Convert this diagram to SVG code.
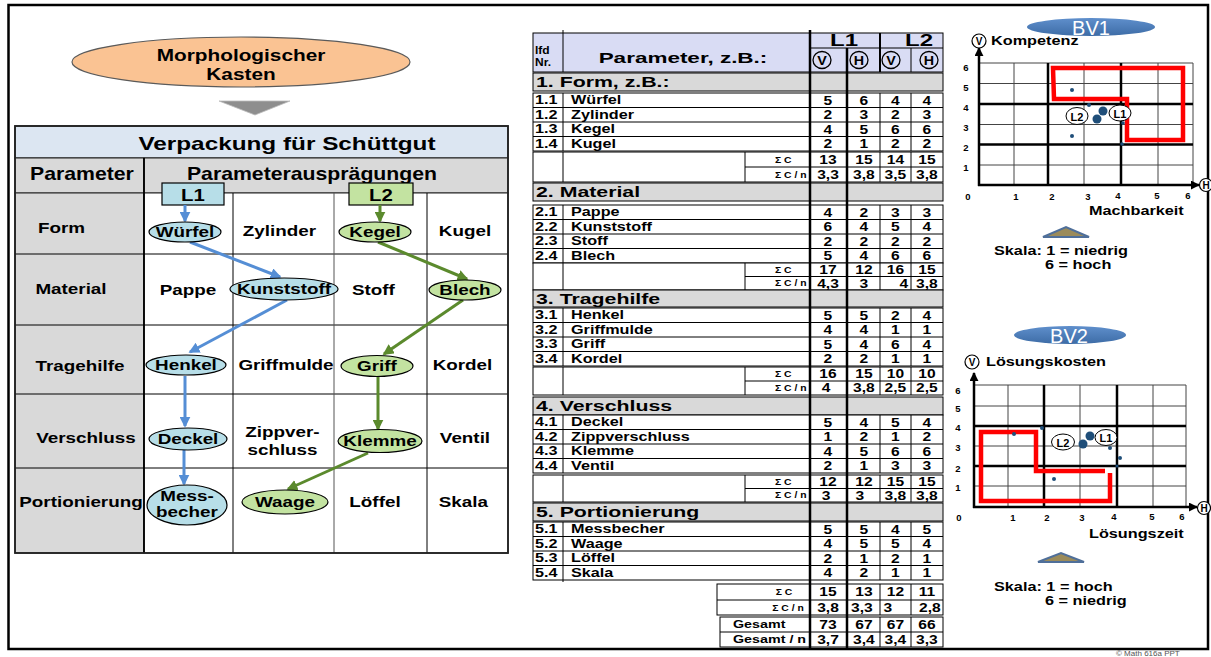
<svg xmlns="http://www.w3.org/2000/svg" width="1211" height="657" viewBox="0 0 1211 657">
<defs>
<marker id="ab" viewBox="0 0 10 10" refX="8.5" refY="5" markerWidth="11" markerHeight="11" markerUnits="userSpaceOnUse" orient="auto"><path d="M0,0L10,5L0,10z" fill="#558ED5"/></marker>
<marker id="ag" viewBox="0 0 10 10" refX="8.5" refY="5" markerWidth="11" markerHeight="11" markerUnits="userSpaceOnUse" orient="auto"><path d="M0,0L10,5L0,10z" fill="#5B8A2D"/></marker>
<marker id="ak" viewBox="0 0 10 10" refX="9" refY="5" markerWidth="9" markerHeight="9" markerUnits="userSpaceOnUse" orient="auto"><path d="M0,0L10,5L0,10z" fill="#000"/></marker>
<linearGradient id="bv" x1="0" y1="0" x2="0" y2="1"><stop offset="0" stop-color="#5F8FCC"/><stop offset="1" stop-color="#3D6CA6"/></linearGradient>
</defs>
<style>
text{font-family:"Liberation Sans",Arial,Helvetica,sans-serif;font-weight:bold;fill:#000;dominant-baseline:central}
.c{text-anchor:middle;transform-box:fill-box;transform-origin:center}
.s{transform-box:fill-box;transform-origin:left center}
.k1{font-size:16px;transform:scaleX(1.3)}
.ti{font-size:19px;transform:scaleX(1.28)}
.hd{font-size:18px;transform:scaleX(1.18)}
.lb{font-size:17px;transform:scaleX(1.2)}
.lp{font-size:14.5px;transform:scaleX(1.3)}
.th{font-size:15px;transform:scaleX(1.5)}
.lf{font-size:10px;transform:scaleX(1.2)}
.L{font-size:16px;transform:scaleX(1.5)}
.sec{font-size:15px;transform:scaleX(1.42)}
.r{font-size:12px;transform:scaleX(1.35)}
.v{font-size:12px;transform:scaleX(1.3)}
.sg{font-size:9px;transform:scaleX(1.15)}
.gs{font-size:11px;transform:scaleX(1.3)}
.ci{font-size:11px}
.hc{font-size:13px;transform:scaleX(1.1)}
.ax{font-size:13px;transform:scaleX(1.25)}
.tk{font-size:9.5px;text-anchor:middle}
.bvt{font-size:20px;font-weight:normal;fill:#fff;text-anchor:middle}
.cp{font-size:11px;text-anchor:middle}
.ln line{stroke:#000;stroke-width:1}
.cell{fill:#fff;stroke:#000;stroke-width:1}
.band{fill:#D9D9D9;stroke:#000;stroke-width:1}
.eb{fill:#B7DEE8;stroke:#000;stroke-width:1.2}
.eg{fill:#C3E3A1;stroke:#000;stroke-width:1.2}
.cb{stroke:#558ED5;stroke-width:3;fill:none;marker-end:url(#ab)}
.cg{stroke:#5B8A2D;stroke-width:3;fill:none;marker-end:url(#ag)}
.gt line{stroke:#444;stroke-width:1}
.gk line{stroke:#000;stroke-width:2.5}
.dot{fill:#1F4E79}
.red{fill:none;stroke:#FF0000;stroke-width:4.5}
.lbl{fill:#fff;stroke:#000;stroke-width:1}
.tri{fill:#9B8B5A;stroke:#4F6F9A;stroke-width:2}
</style>
<rect x="0" y="0" width="1211" height="657" fill="#fff"/>
<g id="frame"><rect x="8.5" y="5" width="1199.5" height="644" fill="none" stroke="#000" stroke-width="2.5"/></g>

<!-- LEFT: morphological box -->
<g id="node-kasten">
<ellipse cx="241" cy="62" rx="169" ry="25" fill="#FAC393" stroke="#5a5a5a" stroke-width="1.2"/>
<text class="c k1" x="241" y="55">Morphologischer</text>
<text class="c k1" x="241" y="74">Kasten</text>
</g>
<g id="down-triangle"><polygon points="219,101 290,101 255,115" fill="#8E8E8E" stroke="#bbb" stroke-width="0.8"/></g>

<g id="morph-table">
<rect x="15" y="126" width="493" height="32" fill="#DCE6F2" stroke="#222" stroke-width="1.2"/>
<rect x="15" y="158" width="129" height="35" fill="#D9D9D9" stroke="#222"/>
<rect x="144" y="158" width="364" height="35" fill="#D9D9D9" stroke="#222"/>
<rect x="15" y="193" width="129" height="360" fill="#D9D9D9" stroke="#222"/>
<rect x="144" y="193" width="364" height="360" fill="#fff" stroke="#222"/>
<g class="ln">
<line x1="15" y1="254" x2="508" y2="254"/>
<line x1="15" y1="325" x2="508" y2="325"/>
<line x1="15" y1="394" x2="508" y2="394"/>
<line x1="15" y1="468" x2="508" y2="468"/>
<line x1="233" y1="193" x2="233" y2="553"/>
<line x1="334" y1="193" x2="334" y2="553" style="stroke:#555"/>
<line x1="427" y1="193" x2="427" y2="553"/>
<line x1="144" y1="158" x2="144" y2="553" style="stroke-width:1.8"/>
</g>
<rect x="15" y="126" width="493" height="427" fill="none" stroke="#222" stroke-width="1.8"/>
<text class="c ti" x="287" y="143.5">Verpackung für Schüttgut</text>
<text class="c hd" x="82" y="173.5">Parameter</text>
<text class="c hd" x="312" y="173.5">Parameterausprägungen</text>
<text class="c lp" x="61.5" y="228.5">Form</text>
<text class="c lp" x="71" y="289.5">Material</text>
<text class="c lp" x="80" y="366.5">Tragehilfe</text>
<text class="c lp" x="86" y="438.5">Verschluss</text>
<text class="c lp" x="81" y="502">Portionierung</text>
<text class="c lp" x="279.5" y="231.5">Zylinder</text>
<text class="c lp" x="465" y="231.5">Kugel</text>
<text class="c lp" x="188" y="290">Pappe</text>
<text class="c lp" x="373.5" y="290">Stoff</text>
<text class="c lp" x="286" y="365.5">Griffmulde</text>
<text class="c lp" x="462.5" y="365.5">Kordel</text>
<text class="c lp" x="282.5" y="432">Zippver-</text>
<text class="c lp" x="282.5" y="450">schluss</text>
<text class="c lp" x="465" y="438.5">Ventil</text>
<text class="c lp" x="375" y="502.5">Löffel</text>
<text class="c lp" x="463.5" y="502.5">Skala</text>
</g>

<g id="node-L1"><rect x="162" y="183" width="62" height="22" fill="#B7DEE8" stroke="#000" stroke-width="1.2"/><text class="c lb" x="193" y="195">L1</text></g>
<g id="node-L2"><rect x="349" y="183" width="64" height="22" fill="#C3E3A1" stroke="#000" stroke-width="1.2"/><text class="c lb" x="381" y="195">L2</text></g>

<g id="connectors">
<line class="cb" x1="185" y1="205" x2="185" y2="221"/>
<line class="cb" x1="190" y1="242" x2="280" y2="277"/>
<line class="cb" x1="287" y1="300" x2="190" y2="352"/>
<line class="cb" x1="185" y1="376" x2="185" y2="426"/>
<line class="cb" x1="184" y1="450" x2="184" y2="484"/>
<line class="cg" x1="380" y1="205" x2="380" y2="221"/>
<line class="cg" x1="378" y1="242" x2="467" y2="279"/>
<line class="cg" x1="463" y1="300" x2="384" y2="354"/>
<line class="cg" x1="378" y1="377" x2="378" y2="429"/>
<line class="cg" x1="368" y1="453" x2="288" y2="489"/>
</g>

<g id="node-wuerfel"><ellipse class="eb" cx="185" cy="232" rx="36" ry="10"/><text class="c lp" x="185" y="232">Würfel</text></g>
<g id="node-kunststoff"><ellipse class="eb" cx="284" cy="289" rx="54" ry="11"/><text class="c lp" x="284" y="289">Kunststoff</text></g>
<g id="node-henkel"><ellipse class="eb" cx="186" cy="365" rx="40" ry="10"/><text class="c lp" x="186" y="365">Henkel</text></g>
<g id="node-deckel"><ellipse class="eb" cx="188" cy="439" rx="39" ry="11"/><text class="c lp" x="188" y="439">Deckel</text></g>
<g id="node-messbecher"><ellipse class="eb" cx="187" cy="505" rx="40" ry="20"/><text class="c lp" x="187" y="496">Mess-</text><text class="c lp" x="187" y="512">becher</text></g>
<g id="node-kegel"><ellipse class="eg" cx="375" cy="232" rx="36" ry="10"/><text class="c lp" x="375" y="232">Kegel</text></g>
<g id="node-blech"><ellipse class="eg" cx="465" cy="290" rx="36" ry="10"/><text class="c lp" x="465" y="290">Blech</text></g>
<g id="node-griff"><ellipse class="eg" cx="377" cy="366" rx="36" ry="10.5"/><text class="c lp" x="377" y="366">Griff</text></g>
<g id="node-klemme"><ellipse class="eg" cx="380" cy="441" rx="42" ry="11.5"/><text class="c lp" x="380" y="441">Klemme</text></g>
<g id="node-waage"><ellipse class="eg" cx="285" cy="502" rx="43" ry="12"/><text class="c lp" x="285" y="502">Waage</text></g>

<!-- TABLE -->
<g id="eval-table">
<rect x="533" y="33" width="410" height="39" fill="#D9DCF4" stroke="#000"/>
<g class="ln">
<line x1="563" y1="30" x2="563" y2="72"/>
<line x1="880" y1="33" x2="880" y2="72" style="stroke-width:2"/>
<line x1="810" y1="48" x2="943" y2="48"/>
<line x1="911" y1="48" x2="911" y2="72"/>
</g>
<text class="s lf" x="535" y="50">lfd</text>
<text class="s lf" x="535" y="62">Nr.</text>
<text class="c th" x="683" y="58">Parameter, z.B.:</text>
<text class="c L" x="844" y="41">L1</text>
<text class="c L" x="919" y="41">L2</text>
<g fill="none" stroke="#000" stroke-width="1.3"><ellipse cx="822" cy="60" rx="9" ry="8.5"/><ellipse cx="859" cy="60" rx="9" ry="8.5"/><ellipse cx="891" cy="60" rx="9" ry="8.5"/><ellipse cx="929" cy="60" rx="9" ry="8.5"/></g>
<text class="c hc" x="822" y="60.5">V</text><text class="c hc" x="859" y="60.5">H</text><text class="c hc" x="891" y="60.5">V</text><text class="c hc" x="929" y="60.5">H</text>

<!-- section 1 -->
<rect class="band" x="533" y="73" width="410" height="18"/>
<rect class="cell" x="533" y="93" width="410" height="58"/>
<rect class="cell" x="533" y="152" width="410" height="30"/>
<g class="ln">
<line x1="533" y1="107.5" x2="943" y2="107.5"/><line x1="533" y1="122" x2="943" y2="122"/><line x1="533" y1="136.5" x2="943" y2="136.5"/>
<line x1="563" y1="93" x2="563" y2="151"/><line x1="880" y1="93" x2="880" y2="151"/><line x1="911" y1="93" x2="911" y2="151"/>
<line x1="563" y1="152" x2="563" y2="182"/><line x1="745" y1="152" x2="745" y2="182"/><line x1="880" y1="152" x2="880" y2="182"/><line x1="911" y1="152" x2="911" y2="182"/>
<line x1="745" y1="167" x2="943" y2="167"/>
</g>
<!-- section 2 -->
<rect class="band" x="533" y="183" width="410" height="18"/>
<rect class="cell" x="533" y="205" width="410" height="58"/>
<rect class="cell" x="533" y="263" width="410" height="27"/>
<g class="ln">
<line x1="533" y1="219.5" x2="943" y2="219.5"/><line x1="533" y1="234" x2="943" y2="234"/><line x1="533" y1="248.5" x2="943" y2="248.5"/>
<line x1="563" y1="205" x2="563" y2="263"/><line x1="880" y1="205" x2="880" y2="263"/><line x1="911" y1="205" x2="911" y2="263"/>
<line x1="563" y1="263" x2="563" y2="290"/><line x1="745" y1="263" x2="745" y2="290"/><line x1="880" y1="263" x2="880" y2="290"/><line x1="911" y1="263" x2="911" y2="290"/>
<line x1="745" y1="276.5" x2="943" y2="276.5"/>
</g>
<!-- section 3 -->
<rect class="band" x="533" y="290" width="410" height="17"/>
<rect class="cell" x="533" y="308" width="410" height="58"/>
<rect class="cell" x="533" y="367" width="410" height="28"/>
<g class="ln">
<line x1="533" y1="322.5" x2="943" y2="322.5"/><line x1="533" y1="337" x2="943" y2="337"/><line x1="533" y1="351.5" x2="943" y2="351.5"/>
<line x1="563" y1="308" x2="563" y2="366"/><line x1="880" y1="308" x2="880" y2="366"/><line x1="911" y1="308" x2="911" y2="366"/>
<line x1="563" y1="367" x2="563" y2="395"/><line x1="745" y1="367" x2="745" y2="395"/><line x1="880" y1="367" x2="880" y2="395"/><line x1="911" y1="367" x2="911" y2="395"/>
<line x1="745" y1="381" x2="943" y2="381"/>
</g>
<!-- section 4 -->
<rect class="band" x="533" y="397" width="410" height="18"/>
<rect class="cell" x="533" y="415" width="410" height="58"/>
<rect class="cell" x="533" y="475" width="410" height="27"/>
<g class="ln">
<line x1="533" y1="429.5" x2="943" y2="429.5"/><line x1="533" y1="444" x2="943" y2="444"/><line x1="533" y1="458.5" x2="943" y2="458.5"/>
<line x1="563" y1="415" x2="563" y2="473"/><line x1="880" y1="415" x2="880" y2="473"/><line x1="911" y1="415" x2="911" y2="473"/>
<line x1="563" y1="475" x2="563" y2="502"/><line x1="745" y1="475" x2="745" y2="502"/><line x1="880" y1="475" x2="880" y2="502"/><line x1="911" y1="475" x2="911" y2="502"/>
<line x1="745" y1="488.5" x2="943" y2="488.5"/>
</g>
<!-- section 5 -->
<rect class="band" x="533" y="503" width="410" height="18"/>
<rect class="cell" x="533" y="522" width="410" height="58"/>
<rect class="cell" x="717" y="584" width="226" height="31"/>
<rect class="cell" x="720" y="617" width="223" height="30"/>
<g class="ln">
<line x1="533" y1="536.5" x2="943" y2="536.5"/><line x1="533" y1="551" x2="943" y2="551"/><line x1="533" y1="565.5" x2="943" y2="565.5"/>
<line x1="563" y1="522" x2="563" y2="582"/><line x1="880" y1="522" x2="880" y2="580"/><line x1="911" y1="522" x2="911" y2="580"/>
<line x1="880" y1="584" x2="880" y2="615"/><line x1="911" y1="584" x2="911" y2="615"/><line x1="717" y1="600" x2="943" y2="600"/>
<line x1="880" y1="617" x2="880" y2="647"/><line x1="911" y1="617" x2="911" y2="647"/><line x1="720" y1="632" x2="943" y2="632"/>
</g>
<line x1="810" y1="30" x2="810" y2="648" stroke="#000" stroke-width="2.5"/>
<line x1="847" y1="48" x2="847" y2="648" stroke="#000" stroke-width="2.5"/>

<text class="s sec" x="536" y="82">1. Form, z.B.:</text>
<text class="s sec" x="536" y="192">2. Material</text>
<text class="s sec" x="536" y="298.5">3. Tragehilfe</text>
<text class="s sec" x="536" y="406">4. Verschluss</text>
<text class="s sec" x="536" y="512">5. Portionierung</text>

<text class="s r" x="535" y="100.25">1.1</text><text class="s r" x="571" y="100.25">Würfel</text>
<text class="s r" x="535" y="114.75">1.2</text><text class="s r" x="571" y="114.75">Zylinder</text>
<text class="s r" x="535" y="129.25">1.3</text><text class="s r" x="571" y="129.25">Kegel</text>
<text class="s r" x="535" y="143.75">1.4</text><text class="s r" x="571" y="143.75">Kugel</text>
<text class="s r" x="535" y="212.25">2.1</text><text class="s r" x="571" y="212.25">Pappe</text>
<text class="s r" x="535" y="226.75">2.2</text><text class="s r" x="571" y="226.75">Kunststoff</text>
<text class="s r" x="535" y="241.25">2.3</text><text class="s r" x="571" y="241.25">Stoff</text>
<text class="s r" x="535" y="255.75">2.4</text><text class="s r" x="571" y="255.75">Blech</text>
<text class="s r" x="535" y="315.25">3.1</text><text class="s r" x="571" y="315.25">Henkel</text>
<text class="s r" x="535" y="329.75">3.2</text><text class="s r" x="571" y="329.75">Griffmulde</text>
<text class="s r" x="535" y="344.25">3.3</text><text class="s r" x="571" y="344.25">Griff</text>
<text class="s r" x="535" y="358.75">3.4</text><text class="s r" x="571" y="358.75">Kordel</text>
<text class="s r" x="535" y="422.25">4.1</text><text class="s r" x="571" y="422.25">Deckel</text>
<text class="s r" x="535" y="436.75">4.2</text><text class="s r" x="571" y="436.75">Zippverschluss</text>
<text class="s r" x="535" y="451.25">4.3</text><text class="s r" x="571" y="451.25">Klemme</text>
<text class="s r" x="535" y="465.75">4.4</text><text class="s r" x="571" y="465.75">Ventil</text>
<text class="s r" x="535" y="529.25">5.1</text><text class="s r" x="571" y="529.25">Messbecher</text>
<text class="s r" x="535" y="543.75">5.2</text><text class="s r" x="571" y="543.75">Waage</text>
<text class="s r" x="535" y="558.25">5.3</text><text class="s r" x="571" y="558.25">Löffel</text>
<text class="s r" x="535" y="572.75">5.4</text><text class="s r" x="571" y="572.75">Skala</text>

<text class="s sg" x="775" y="159.5">Σ C</text><text class="s sg" x="775" y="174.5">Σ C / n</text>
<text class="s sg" x="775" y="269.75">Σ C</text><text class="s sg" x="775" y="283.25">Σ C / n</text>
<text class="s sg" x="775" y="374">Σ C</text><text class="s sg" x="775" y="388">Σ C / n</text>
<text class="s sg" x="775" y="481.75">Σ C</text><text class="s sg" x="775" y="495.25">Σ C / n</text>
<text class="c sg" x="784" y="592">Σ C</text><text class="c sg" x="788" y="607.5">Σ C / n</text>
<text class="s gs" x="733" y="624.5">Gesamt</text><text class="s gs" x="733" y="639.5">Gesamt / n</text>

<g id="values">
<text class="c v" x="828" y="100.25">5</text><text class="c v" x="864" y="100.25">6</text><text class="c v" x="895.5" y="100.25">4</text><text class="c v" x="927" y="100.25">4</text>
<text class="c v" x="828" y="114.75">2</text><text class="c v" x="864" y="114.75">3</text><text class="c v" x="895.5" y="114.75">2</text><text class="c v" x="927" y="114.75">3</text>
<text class="c v" x="828" y="129.25">4</text><text class="c v" x="864" y="129.25">5</text><text class="c v" x="895.5" y="129.25">6</text><text class="c v" x="927" y="129.25">6</text>
<text class="c v" x="828" y="143.75">2</text><text class="c v" x="864" y="143.75">1</text><text class="c v" x="895.5" y="143.75">2</text><text class="c v" x="927" y="143.75">2</text>
<text class="c v" x="828" y="159.5">13</text><text class="c v" x="864" y="159.5">15</text><text class="c v" x="895.5" y="159.5">14</text><text class="c v" x="927" y="159.5">15</text>
<text class="c v" x="828" y="174.5">3,3</text><text class="c v" x="864" y="174.5">3,8</text><text class="c v" x="895.5" y="174.5">3,5</text><text class="c v" x="927" y="174.5">3,8</text>

<text class="c v" x="828" y="212.25">4</text><text class="c v" x="864" y="212.25">2</text><text class="c v" x="895.5" y="212.25">3</text><text class="c v" x="927" y="212.25">3</text>
<text class="c v" x="828" y="226.75">6</text><text class="c v" x="864" y="226.75">4</text><text class="c v" x="895.5" y="226.75">5</text><text class="c v" x="927" y="226.75">4</text>
<text class="c v" x="828" y="241.25">2</text><text class="c v" x="864" y="241.25">2</text><text class="c v" x="895.5" y="241.25">2</text><text class="c v" x="927" y="241.25">2</text>
<text class="c v" x="828" y="255.75">5</text><text class="c v" x="864" y="255.75">4</text><text class="c v" x="895.5" y="255.75">6</text><text class="c v" x="927" y="255.75">6</text>
<text class="c v" x="828" y="269.75">17</text><text class="c v" x="864" y="269.75">12</text><text class="c v" x="895.5" y="269.75">16</text><text class="c v" x="927" y="269.75">15</text>
<text class="c v" x="828" y="283.25">4,3</text><text class="c v" x="864" y="283.25">3</text><text class="c v" x="904" y="283.25">4</text><text class="c v" x="927" y="283.25">3,8</text>

<text class="c v" x="828" y="315.25">5</text><text class="c v" x="864" y="315.25">5</text><text class="c v" x="895.5" y="315.25">2</text><text class="c v" x="927" y="315.25">4</text>
<text class="c v" x="828" y="329.75">4</text><text class="c v" x="864" y="329.75">4</text><text class="c v" x="895.5" y="329.75">1</text><text class="c v" x="927" y="329.75">1</text>
<text class="c v" x="828" y="344.25">5</text><text class="c v" x="864" y="344.25">4</text><text class="c v" x="895.5" y="344.25">6</text><text class="c v" x="927" y="344.25">4</text>
<text class="c v" x="828" y="358.75">2</text><text class="c v" x="864" y="358.75">2</text><text class="c v" x="895.5" y="358.75">1</text><text class="c v" x="927" y="358.75">1</text>
<text class="c v" x="828" y="374">16</text><text class="c v" x="864" y="374">15</text><text class="c v" x="895.5" y="374">10</text><text class="c v" x="927" y="374">10</text>
<text class="c v" x="826" y="388">4</text><text class="c v" x="864" y="388">3,8</text><text class="c v" x="895.5" y="388">2,5</text><text class="c v" x="927" y="388">2,5</text>

<text class="c v" x="828" y="422.25">5</text><text class="c v" x="864" y="422.25">4</text><text class="c v" x="895.5" y="422.25">5</text><text class="c v" x="927" y="422.25">4</text>
<text class="c v" x="828" y="436.75">1</text><text class="c v" x="864" y="436.75">2</text><text class="c v" x="895.5" y="436.75">1</text><text class="c v" x="927" y="436.75">2</text>
<text class="c v" x="828" y="451.25">4</text><text class="c v" x="864" y="451.25">5</text><text class="c v" x="895.5" y="451.25">6</text><text class="c v" x="927" y="451.25">6</text>
<text class="c v" x="828" y="465.75">2</text><text class="c v" x="864" y="465.75">1</text><text class="c v" x="895.5" y="465.75">3</text><text class="c v" x="927" y="465.75">3</text>
<text class="c v" x="828" y="481.75">12</text><text class="c v" x="864" y="481.75">12</text><text class="c v" x="895.5" y="481.75">15</text><text class="c v" x="927" y="481.75">15</text>
<text class="c v" x="826" y="495.25">3</text><text class="c v" x="860" y="495.25">3</text><text class="c v" x="895.5" y="495.25">3,8</text><text class="c v" x="927" y="495.25">3,8</text>

<text class="c v" x="828" y="529.25">5</text><text class="c v" x="864" y="529.25">5</text><text class="c v" x="895.5" y="529.25">4</text><text class="c v" x="927" y="529.25">5</text>
<text class="c v" x="828" y="543.75">4</text><text class="c v" x="864" y="543.75">5</text><text class="c v" x="895.5" y="543.75">5</text><text class="c v" x="927" y="543.75">4</text>
<text class="c v" x="828" y="558.25">2</text><text class="c v" x="864" y="558.25">1</text><text class="c v" x="895.5" y="558.25">2</text><text class="c v" x="927" y="558.25">1</text>
<text class="c v" x="828" y="572.75">4</text><text class="c v" x="864" y="572.75">2</text><text class="c v" x="895.5" y="572.75">1</text><text class="c v" x="927" y="572.75">1</text>
<text class="c v" x="828" y="592">15</text><text class="c v" x="864" y="592">13</text><text class="c v" x="895.5" y="592">12</text><text class="c v" x="927" y="592">11</text>
<text class="c v" x="828" y="607.5">3,8</text><text class="c v" x="862" y="607.5">3,3</text><text class="c v" x="888" y="607.5">3</text><text class="c v" x="930" y="607.5">2,8</text>
<text class="c v" x="828" y="624.5">73</text><text class="c v" x="864" y="624.5">67</text><text class="c v" x="895.5" y="624.5">67</text><text class="c v" x="927" y="624.5">66</text>
<text class="c v" x="828" y="639.5">3,7</text><text class="c v" x="864" y="639.5">3,4</text><text class="c v" x="895.5" y="639.5">3,4</text><text class="c v" x="927" y="639.5">3,3</text>
</g>
</g>

<!-- CHART BV1 -->
<g id="chart-bv1">
<ellipse cx="1091" cy="27" rx="64" ry="9" fill="url(#bv)"/>
<text class="bvt" x="1091" y="27.5">BV1</text>
<g class="gt">
<line x1="1014" y1="63" x2="1014" y2="185"/><line x1="1084" y1="63" x2="1084" y2="185"/><line x1="1158" y1="63" x2="1158" y2="185"/><line x1="1193" y1="63" x2="1193" y2="185"/>
<line x1="979" y1="165" x2="1193" y2="165"/><line x1="979" y1="124.5" x2="1193" y2="124.5"/><line x1="979" y1="83.5" x2="1193" y2="83.5"/><line x1="979" y1="63" x2="1193" y2="63"/>
</g>
<g class="gk">
<line x1="1048" y1="63" x2="1048" y2="185"/><line x1="1121" y1="63" x2="1121" y2="185"/>
<line x1="979" y1="144.5" x2="1193" y2="144.5"/><line x1="979" y1="104" x2="1193" y2="104"/>
</g>
<line x1="979" y1="186" x2="979" y2="48" stroke="#000" stroke-width="2.5" marker-end="url(#ak)"/>
<line x1="978" y1="185" x2="1199" y2="185" stroke="#000" stroke-width="2.5" marker-end="url(#ak)"/>
<polygon class="red" points="1053,68 1183,68 1183,140 1127,140 1127,99 1054,99"/>
<circle class="dot" cx="1072" cy="90" r="2"/><circle class="dot" cx="1089" cy="105" r="2"/>
<circle class="dot" cx="1103" cy="111" r="4.5"/><circle class="dot" cx="1097" cy="119" r="4.5"/>
<circle class="dot" cx="1072" cy="136" r="2"/><circle class="dot" cx="1123" cy="123" r="1.8"/><circle class="dot" cx="1122" cy="144" r="1.8"/>
<ellipse class="lbl" cx="1077" cy="116" rx="11" ry="8.5"/><text class="cp" x="1077" y="116.5">L2</text>
<ellipse class="lbl" cx="1120" cy="113" rx="11" ry="8"/><text class="cp" x="1120" y="113.5">L1</text>
<circle cx="979" cy="41" r="7" fill="#fff" stroke="#000" stroke-width="1.2"/><text class="c ci" x="979" y="41.5" style="font-size:10px">V</text>
<text class="s ax" x="991" y="41">Kompetenz</text>
<circle cx="1206" cy="185" r="6.5" fill="#fff" stroke="#000" stroke-width="1.2"/><text class="c ci" x="1206" y="185.5" style="font-size:10px">H</text>
<text class="tk" x="966" y="67">6</text><text class="tk" x="966" y="87">5</text><text class="tk" x="966" y="107">4</text><text class="tk" x="966" y="127">3</text><text class="tk" x="966" y="147">2</text><text class="tk" x="966" y="167">1</text>
<text class="tk" x="968" y="196">0</text><text class="tk" x="1016" y="196">1</text><text class="tk" x="1052" y="196">2</text><text class="tk" x="1088" y="196">3</text><text class="tk" x="1118" y="195">4</text><text class="tk" x="1157" y="195">5</text><text class="tk" x="1188" y="195">6</text>
<text class="s ax" x="1089" y="211">Machbarkeit</text>
<polygon class="tri" points="1043,237 1066,227 1089,237"/>
<text class="s ax" x="994" y="251">Skala: 1 = niedrig</text>
<text class="s ax" x="1045" y="265">6 = hoch</text>
</g>

<!-- CHART BV2 -->
<g id="chart-bv2">
<ellipse cx="1070" cy="335" rx="56" ry="9" fill="url(#bv)"/>
<text class="bvt" x="1069" y="335.5">BV2</text>
<g class="gt">
<line x1="1008" y1="385" x2="1008" y2="507"/><line x1="1080" y1="385" x2="1080" y2="507"/><line x1="1153" y1="385" x2="1153" y2="507"/><line x1="1186" y1="385" x2="1186" y2="507"/>
<line x1="974" y1="486" x2="1186" y2="486"/><line x1="974" y1="446" x2="1186" y2="446"/><line x1="974" y1="406" x2="1186" y2="406"/><line x1="974" y1="385" x2="1186" y2="385"/>
</g>
<g class="gk">
<line x1="1044" y1="385" x2="1044" y2="507"/><line x1="1117" y1="385" x2="1117" y2="507"/>
<line x1="974" y1="466" x2="1186" y2="466"/><line x1="974" y1="426" x2="1186" y2="426"/>
</g>
<line x1="974" y1="508" x2="974" y2="373" stroke="#000" stroke-width="2.5" marker-end="url(#ak)"/>
<line x1="973" y1="507" x2="1197" y2="507" stroke="#000" stroke-width="2.5" marker-end="url(#ak)"/>
<path class="red" d="M1105,471 L1036,471 L1036,432 L981,432 L981,501 L1110,501 L1110,473"/>
<circle class="dot" cx="1014" cy="434" r="2"/><circle class="dot" cx="1042" cy="428" r="2"/><circle class="dot" cx="1054" cy="479" r="2"/>
<circle class="dot" cx="1090" cy="436" r="4.5"/><circle class="dot" cx="1083" cy="444" r="4.5"/>
<circle class="dot" cx="1110" cy="448" r="2"/><circle class="dot" cx="1120" cy="458" r="2"/><circle class="dot" cx="1117" cy="466" r="1.6"/>
<ellipse class="lbl" cx="1063" cy="442" rx="11.5" ry="8"/><text class="cp" x="1063" y="442.5">L2</text>
<ellipse class="lbl" cx="1106" cy="437.5" rx="11" ry="8"/><text class="cp" x="1106" y="438">L1</text>
<circle cx="972" cy="362" r="7" fill="#fff" stroke="#000" stroke-width="1.2"/><text class="c ci" x="972" y="362.5" style="font-size:10px">V</text>
<text class="s ax" x="986" y="362">Lösungskosten</text>
<circle cx="1204" cy="508" r="6.5" fill="#fff" stroke="#000" stroke-width="1.2"/><text class="c ci" x="1204" y="508.5" style="font-size:10px">H</text>
<text class="tk" x="958" y="390">6</text><text class="tk" x="958" y="408">5</text><text class="tk" x="958" y="427">4</text><text class="tk" x="958" y="447">3</text><text class="tk" x="958" y="468">2</text><text class="tk" x="958" y="487">1</text>
<text class="tk" x="959" y="517">0</text><text class="tk" x="1013" y="517">1</text><text class="tk" x="1047" y="517">2</text><text class="tk" x="1082" y="517">3</text><text class="tk" x="1114" y="516">4</text><text class="tk" x="1152" y="516">5</text><text class="tk" x="1182" y="516">6</text>
<text class="s ax" x="1089" y="534">Lösungszeit</text>
<polygon class="tri" points="1038,562 1061,553 1084,562"/>
<text class="s ax" x="994" y="587">Skala: 1 = hoch</text>
<text class="s ax" x="1045" y="601">6 = niedrig</text>
</g>

<text x="1116" y="653.5" style="font-size:8px;font-weight:normal;fill:#555">© Math 616a PPT</text>
</svg>
